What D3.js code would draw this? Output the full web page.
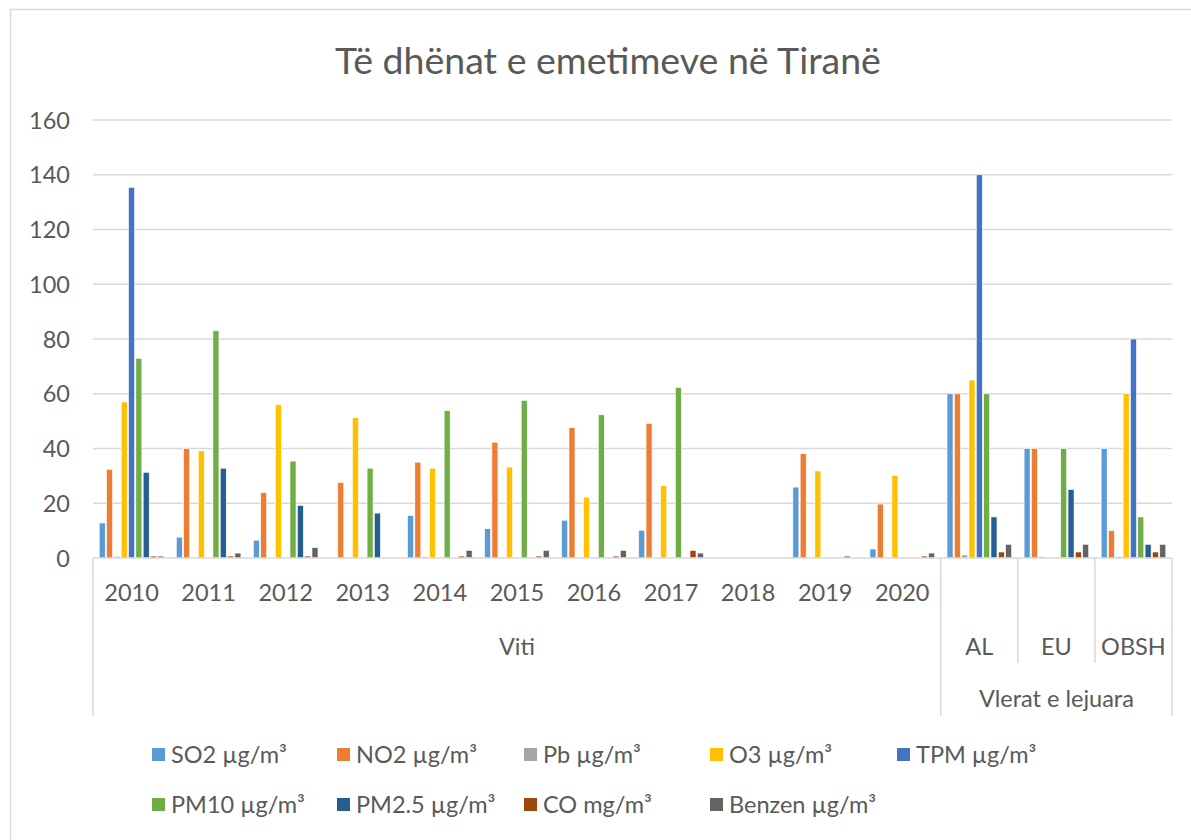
<!DOCTYPE html>
<html><head><meta charset="utf-8">
<script src="https://cdn.jsdelivr.net/npm/d3@7"></script>
<style>body{margin:0;background:#fff;} svg{display:block;font-family:Lato,"Open Sans",sans-serif;}</style>
</head><body>
<svg id="c" width="1191" height="840"></svg>
<script>
const categories = ["2010","2011","2012","2013","2014","2015","2016","2017","2018","2019","2020","AL","EU","OBSH"];
const groups = [{name:"Viti", from:0, to:10},{name:"Vlerat e lejuara", from:11, to:13}];
const seriesNames = ["SO2 µg/m³","NO2 µg/m³","Pb µg/m³","O3 µg/m³","TPM µg/m³","PM10 µg/m³","PM2.5 µg/m³","CO mg/m³","Benzen µg/m³"];
const colors = ["#5B9BD5","#ED7D31","#A5A5A5","#FFC000","#4472C4","#70AD47","#255E91","#9E480E","#636363"];
const SO2   = [12.8, 7.6, 6.5, 0, 15.5, 10.7, 13.8, 10.1, 0, 25.9, 3.3, 60, 40, 40];
const NO2   = [32.4, 40, 23.9, 27.5, 35, 42.3, 47.6, 49.2, 0, 38.1, 19.7, 60, 40, 10];
const Pb    = [0.6, 0, 0, 0, 0.5, 0, 0, 0, 0, 0, 0, 1.1, 0.5, 0.5];
const O3    = [57, 39.1, 56, 51.3, 32.8, 33.2, 22.2, 26.4, 0, 31.8, 30.2, 65, 0, 60];
const TPM   = [135.4, 0, 0, 0, 0, 0, 0, 0, 0, 0, 0, 140, 0, 80];
const PM10  = [72.9, 83, 35.4, 32.8, 53.8, 57.6, 52.3, 62.3, 0, 0, 0, 60, 40, 15];
const PM25  = [31.3, 32.8, 19.2, 16.4, 0, 0, 0, 0, 0, 0, 0, 15, 25, 5];
const CO    = [0.7, 0.7, 0.7, 0, 0.7, 0.7, 0.7, 2.8, 0, 0.7, 0.7, 2.2, 2.2, 2.2];
const Benzen= [0.7, 1.8, 3.8, 0, 2.8, 2.8, 2.8, 1.8, 0, 0, 1.8, 5, 5, 5];
const yTicks = [0,20,40,60,80,100,120,140,160];
const series = [SO2,NO2,Pb,O3,TPM,PM10,PM25,CO,Benzen];

const svg = d3.select("#c");
const txt = "#595959", grid = "#D9D9D9";
const L = 93, R = 1172, T = 120, B = 558;
const FS = 23.5;

svg.append("rect").attr("x",10.5).attr("y",9.5).attr("width",1200).attr("height",900)
  .attr("fill","#fff").attr("stroke","#D9D9D9").attr("stroke-width",1.5);

svg.append("text").attr("x",608).attr("y",74).attr("text-anchor","middle")
  .attr("font-size",37.5).attr("fill",txt).text("Të dhënat e emetimeve në Tiranë");

const y = d3.scaleLinear().domain([0,160]).range([B,T]);
const x0 = d3.scaleBand().domain(categories).range([L,R]).paddingInner(0).paddingOuter(0);
const x1 = d3.scaleBand().domain(d3.range(series.length)).range([0,x0.bandwidth()]).paddingInner(0.18).paddingOuter(0.85);

// gridlines
svg.append("g").selectAll("line").data(yTicks.filter(d=>d>0)).join("line")
  .attr("x1",L).attr("x2",R).attr("y1",d=>y(d)).attr("y2",d=>y(d))
  .attr("stroke",grid).attr("stroke-width",1.5);

// y axis labels
const yAxis = d3.axisLeft(y).tickValues(yTicks).tickSize(0).tickPadding(0);
const ga = svg.append("g").attr("transform","translate(70,0)").call(yAxis);
ga.select(".domain").remove();
ga.selectAll("text").attr("font-size",FS).attr("fill",txt).attr("font-family","Lato,sans-serif").attr("dy","0.35em");

// bars
const gBars = svg.append("g");
series.forEach((vals,si)=>{
  gBars.append("g").selectAll("rect").data(categories.map((c,i)=>({c,v:vals[i]})).filter(d=>d.v>0)).join("rect")
    .attr("x",d=>x0(d.c)+x1(si)).attr("width",x1.bandwidth())
    .attr("y",d=>y(d.v)).attr("height",d=>B-y(d.v))
    .attr("fill",colors[si]).attr("stroke","#fff").attr("stroke-width",0.6);
});

// x axis line
svg.append("line").attr("x1",L).attr("x2",R).attr("y1",B).attr("y2",B).attr("stroke",grid).attr("stroke-width",1.5);

// category labels
svg.append("g").selectAll("text").data(categories).join("text")
  .attr("x",d=>x0(d)+x0.bandwidth()/2)
  .attr("y",(d,i)=> i<=10 ? 601 : 655)
  .attr("text-anchor","middle").attr("font-size",FS).attr("fill",txt).text(d=>d);

// separators
const sep = [
  {x:x0(categories[0]), y2:716},
  {x:x0(categories[11]), y2:716},
  {x:x0(categories[12]), y2:663},
  {x:x0(categories[13]), y2:663},
  {x:R, y2:716}
];
svg.append("g").selectAll("line").data(sep).join("line")
  .attr("x1",d=>d.x).attr("x2",d=>d.x).attr("y1",B).attr("y2",d=>d.y2)
  .attr("stroke",grid).attr("stroke-width",1.5);

// group labels
svg.append("g").selectAll("text").data(groups).join("text")
  .attr("x",g=>(x0(categories[g.from]) + x0(categories[g.to])+x0.bandwidth())/2)
  .attr("y",g=> g.from===0 ? 655 : 707)
  .attr("text-anchor","middle").attr("font-size",FS).attr("fill",txt).text(g=>g.name);

// legend
const legX = [152,337,524,710,897];
const legY = [755,805];
const lg = svg.append("g");
seriesNames.forEach((n,i)=>{
  const row = i<5?0:1, col = i<5?i:i-5;
  const g = lg.append("g").attr("transform",`translate(${legX[col]},${legY[row]})`);
  g.append("rect").attr("x",0).attr("y",-7).attr("width",13).attr("height",13).attr("fill",colors[i]);
  g.append("text").attr("x",19).attr("y",0).attr("dy","0.35em").attr("font-size",FS).attr("fill",txt).text(n);
});
</script>
</body></html>
